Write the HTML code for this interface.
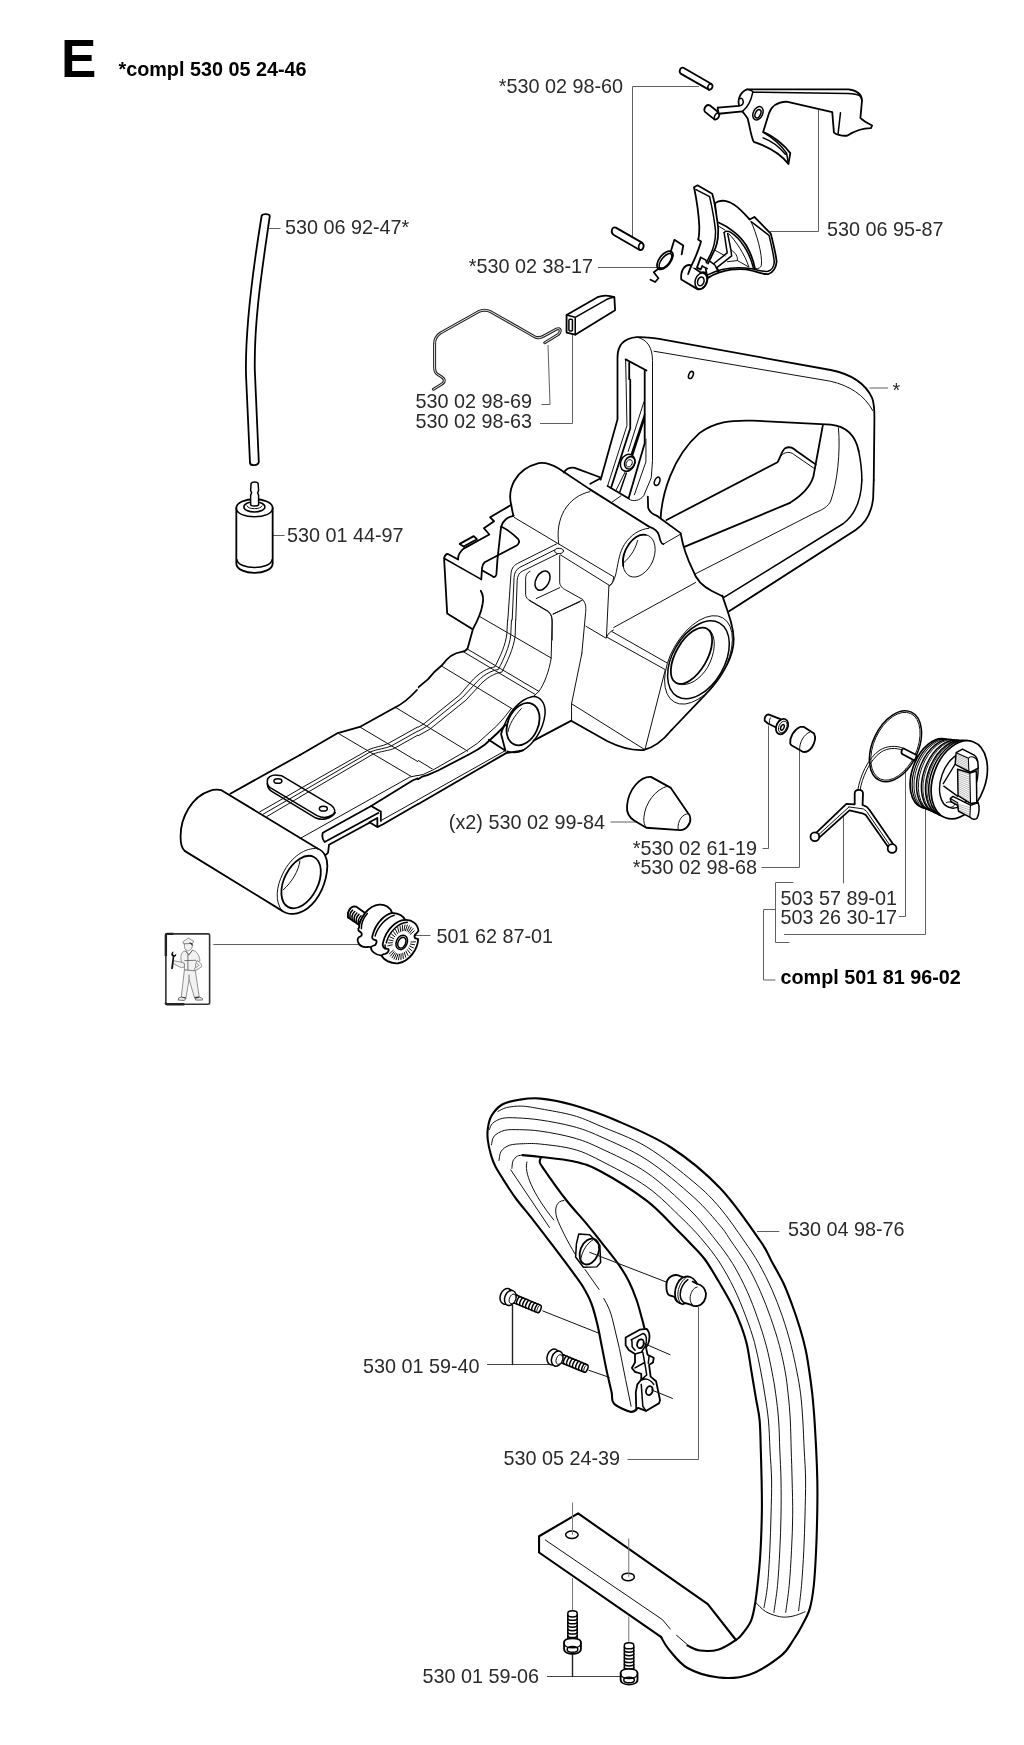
<!DOCTYPE html>
<html><head><meta charset="utf-8"><title>E</title>
<style>
html,body{margin:0;padding:0;background:#fff;}
svg{display:block;filter:grayscale(1)}
text{font-family:"Liberation Sans",sans-serif;font-size:19.8px;fill:#2a2a2a}
.b{font-weight:bold}
.k{fill:none;stroke:#000;stroke-width:1.8;stroke-linejoin:round;stroke-linecap:round}
.m{fill:none;stroke:#000;stroke-width:1.5;stroke-linejoin:round;stroke-linecap:round}
.t{fill:none;stroke:#111;stroke-width:1;stroke-linejoin:round;stroke-linecap:round}
.l{fill:none;stroke:#606060;stroke-width:1}
.k2{fill:none;stroke:#000;stroke-width:2.1;stroke-linejoin:round;stroke-linecap:round}
.w{fill:#fff}
path,ellipse,circle,line,polyline,polygon,rect{vector-effect:non-scaling-stroke}
.b{fill:#000}
</style></head><body>
<svg width="1024" height="1745" viewBox="0 0 1024 1745">
<rect width="1024" height="1745" fill="#fff"/>
<!-- 00_text.svg -->
<g id="labels">
<text class="b" x="61" y="76.5" style="font-size:53px">E</text>
<text class="b" x="118.5" y="75.7" style="font-size:19.8px">*compl 530 05 24-46</text>
<text x="623" y="93" text-anchor="end">*530 02 98-60</text>
<text x="827" y="235.5">530 06 95-87</text>
<text x="593" y="273" text-anchor="end">*530 02 38-17</text>
<text x="285" y="233.500">530 06 92-47*</text>
<text x="532.1" y="408.3" text-anchor="end">530 02 98-69</text>
<text x="532.1" y="428.2" text-anchor="end">530 02 98-63</text>
<text x="892.4" y="397">*</text>
<text x="287" y="542">530 01 44-97</text>
<text x="605" y="828.5" text-anchor="end">(x2) 530 02 99-84</text>
<text x="757" y="854.5" text-anchor="end">*530 02 61-19</text>
<text x="757" y="873.5" text-anchor="end">*530 02 98-68</text>
<text x="780.5" y="904.5">503 57 89-01</text>
<text x="780.5" y="924">503 26 30-17</text>
<text class="b" x="780.5" y="984" style="font-size:19.8px">compl 501 81 96-02</text>
<text x="436.5" y="943">501 62 87-01</text>
<text x="788" y="1236">530 04 98-76</text>
<text x="479.5" y="1373" text-anchor="end">530 01 59-40</text>
<text x="620" y="1464.5" text-anchor="end">530 05 24-39</text>
<text x="539" y="1683" text-anchor="end">530 01 59-06</text>
</g>
<!-- 01_leaders.svg -->
<g id="leaders" class="l">
<path d="M699,86.500 H632.500 V238"/>
<path d="M770,231.500 H818.500 V110"/>
<path d="M598,267.500 H663"/>
<path d="M269,228.500 H280.500"/>
<path d="M541.500,404.500 H550 L548,345"/>
<path d="M540,423.500 H572.500 V334"/>
<path d="M273,535.500 H284.500"/>
<path d="M869.500,388 H888"/>
<path d="M610.500,822 H636"/>
<path d="M768.500,725.500 V848.500 H762.500"/>
<path d="M799.500,751 V867.500 H761.500"/>
<path d="M843.500,815.500 V883.400"/>
<path d="M793.400,882.500 H775.500 V942.500 H789.400"/>
<path d="M775.500,909.500 H763.500 V980 H775.300"/>
<path d="M898.800,916.500 H905.500 V768.500"/>
<path d="M784,934.500 H925.500 V808"/>
<path d="M213.300,944.500 H358.700"/>
<path d="M415.300,935.500 H430.500"/>
<path d="M757,1231.500 H779.300"/>
<path d="M698.500,1307 V1459.500 H627.500"/>
<path d="M547,1676.500 H622" stroke="#444"/>
<path d="M487,1364.500 H549.500" stroke="#444"/>
</g>
<g id="leaders2" class="k" style="stroke-width:1.4;stroke:#222">
<path d="M512.500,1305.500 V1364.500"/>
<path d="M572.500,1653 V1676.500"/>
</g>
<!-- 10_locklever.svg -->
<g id="locklever" transform="translate(660,50) scale(0.234375)">
<!-- pin 1 -->
<path class="k w" d="M100,76 L218,144 C228,150 226,168 210,170 L90,102 C78,94 86,70 100,76 Z"/>
<path class="m" d="M218,144 C206,144 198,160 210,170"/>
<!-- small cylinder -->
<path class="k w" d="M212,236 L252,268 C258,280 246,300 232,296 L192,264 C184,252 196,230 212,236 Z"/>
<path class="m" d="M252,268 C240,264 228,284 232,296"/>
<!-- lever body -->
<path class="k w" d="M372,168 L805,168 C840,172 860,190 862,215 L855,290 C870,305 890,315 905,322 L900,333 C870,333 830,345 800,365 C780,368 750,362 742,352 L735,265 L540,220 C500,222 475,240 465,270 L440,350 C480,365 530,405 556,440 L548,486 C520,450 470,415 400,392 C388,370 382,320 374,292 C366,280 356,268 352,262 L250,272 L246,246 L338,238 C330,215 340,180 372,168 Z"/>
<path class="m" d="M396,180 L800,186 C825,186 845,190 856,198"/>
<path class="m" d="M396,180 C392,200 380,240 352,262"/>
<path class="m" d="M372,168 C385,170 396,176 396,180"/>
<path class="m" d="M338,238 C352,238 360,225 352,210 C350,206 346,205 342,208"/>
<path class="m" d="M770,268 L760,356"/>
<path class="m" d="M442,352 C480,372 520,410 540,440 L548,486"/>
<path class="m" d="M440,375 C480,390 515,420 535,445"/>
<ellipse class="m" cx="418" cy="270" rx="20" ry="30" transform="rotate(25 418 270)"/>
<ellipse class="m" cx="418" cy="272" rx="11" ry="19" transform="rotate(25 418 272)"/>
</g>
<!-- 11_trigger.svg -->
<g id="pin2" transform="translate(560,170) scale(0.234375)">
<path class="k w" d="M238,246 L350,310 C362,318 358,340 342,342 L228,276 C214,266 222,240 238,246 Z"/>
<path class="m" d="M350,310 C336,310 330,332 342,342"/>
<!-- spring -->
<ellipse class="k" cx="448" cy="385" rx="24" ry="46" transform="rotate(38 448 385)"/>
<ellipse class="m" cx="450" cy="388" rx="17" ry="38" transform="rotate(38 450 388)"/>
<path class="k" d="M472,350 L488,298 L526,322 L519,360"/>
<path class="k" d="M424,418 L400,436 L420,462 L406,478 L386,468"/>
</g>
<g id="trigger" transform="translate(670,175) scale(0.1171875)">
<!-- body -->
<path class="k w" d="M385,240 C430,205 500,215 570,270 C620,310 660,360 680,380 L720,358 L860,500 C880,580 905,680 910,740 C905,790 880,830 840,845 C800,852 760,835 700,815 C600,790 450,800 320,880 L300,780 L400,500 Z"/>
<path class="m" d="M322,852 C420,800 560,780 700,800 C760,815 800,828 835,822 C865,812 888,780 890,740"/>
<path class="m" d="M695,400 L845,515 C865,600 885,680 890,740"/>
<path class="t" d="M690,395 C740,500 790,680 780,770 C775,790 760,800 730,800"/>
<path class="k" d="M415,405 C500,440 600,520 650,600 C690,670 715,740 725,800"/>
<path class="m" d="M462,492 C470,478 495,475 515,488 C600,540 680,660 712,795"/>
<path class="m" d="M462,492 L488,665 L375,755"/>
<path class="m" d="M492,500 L520,640 L526,690 L400,790"/>
<path class="t" d="M500,500 C560,560 640,680 672,782"/>
<path class="t" d="M520,640 C560,660 580,700 575,730 L490,740"/>
<path class="t" d="M575,730 L672,785"/>
<path class="t" d="M420,440 L470,470 M380,640 L470,690"/>
<path class="m" d="M345,740 L385,770 L410,825 M400,790 L418,822"/>
<!-- pivot -->
<path class="k w" d="M170,768 C125,765 88,815 96,892 L238,976 C285,980 322,930 320,868 C312,840 290,825 262,832 Z"/>
<ellipse class="m" cx="265" cy="905" rx="50" ry="70" transform="rotate(18 265 905)"/>
<ellipse class="m" cx="263" cy="908" rx="27" ry="38" transform="rotate(18 263 908)"/>
<!-- blade -->
<path d="M205,105 L235,88 L360,160 C375,200 395,330 410,440 C415,520 405,600 370,660 L322,760 L300,800 L175,790 C210,720 250,620 265,568 L240,550 C245,540 250,500 250,440 C245,330 225,200 205,105 Z" fill="#fff"/>
<path class="k" d="M155,845 L175,790 C210,720 250,620 265,568 L240,550 C245,540 250,500 250,440 C245,330 225,200 205,105 L235,88 L360,160 C375,200 395,330 410,440 C415,520 405,600 370,660 L325,755"/>
<path class="k" d="M262,703 L230,790 L262,806 L275,778"/>
<path class="m" d="M222,125 L338,185 C355,260 380,400 388,470 C392,560 375,620 345,680 L310,748"/>
<path class="m" d="M262,703 L305,725 L314,748 M275,778 L318,800"/>
</g>
<!-- 12_wire_block.svg -->
<g id="wire" transform="translate(410,285) scale(0.234375)">
<path d="M100,445 L140,420 C150,410 147,400 137,394 L116,380 C108,374 105,365 105,350 L105,250 C105,230 115,215 130,205 L290,115 C310,105 326,105 346,115 L530,220 C545,228 556,226 570,218 L625,188 C642,181 646,196 634,210 L575,246" fill="none" stroke="#222" stroke-width="3" stroke-linecap="round" stroke-linejoin="round"/>
<path d="M100,445 L140,420 C150,410 147,400 137,394 L116,380 C108,374 105,365 105,350 L105,250 C105,230 115,215 130,205 L290,115 C310,105 326,105 346,115 L530,220 C545,228 556,226 570,218 L625,188 C642,181 646,196 634,210 L575,246" fill="none" stroke="#fff" stroke-width="0.9" stroke-linecap="round" stroke-linejoin="round"/>
<!-- block -->
<path class="k w" d="M668,128 L800,52 C820,44 850,44 872,52 L875,108 L705,212 L668,203 Z"/>
<path class="m" d="M668,128 L705,138 L705,212 M705,138 L838,62 C850,56 862,53 872,52"/>
<rect class="m" x="678" y="146" width="15" height="50" rx="4"/>
</g>
<g id="hose">
<path class="k w" d="M261.6,216 C262,213.500 269.500,213.500 269.800,216 C262,270 254,320 254.800,370 L258.800,462 C258,466 250.500,466 250,463 L246,375 C245,330 252,275 261.600,216 Z"/>
</g>
<g id="filter" transform="translate(200,460) scale(0.234375)">
<path class="k w" d="M155,205 C155,155 310,155 310,205 L310,440 C310,495 155,495 155,440 Z"/>
<path class="m" d="M155,205 C155,255 310,255 310,205"/>
<path class="m" d="M157,425 C165,470 300,470 308,425"/>
<ellipse class="m" cx="232" cy="200" rx="45" ry="22"/>
<path class="m w" d="M216,192 L216,150 L220,140 L216,130 L218,100 C222,92 244,92 248,100 L250,130 L246,140 L250,150 L250,192 C245,198 222,198 216,192 Z"/>
<path class="t" d="M200,196 C205,212 260,212 265,196"/>
</g>
<!-- 20_handle_w1.svg -->
<g id="w1" transform="translate(590,320) scale(0.3125)">
<path class="k" d="M34,511 L88,318 L88,120 C88,80 110,58 150,55 C180,53 205,58 230,62 L770,160 C830,172 880,200 903,250 C912,275 910,300 910,330 L908,512"/>
<path class="t" d="M150,55 C185,62 200,90 200,130 L200,450 L196,505 L172,562 C160,578 140,582 125,574"/>
<path class="t" d="M205,100 L770,196 C830,210 878,240 905,290"/>
<ellipse class="m" cx="323" cy="176" rx="7" ry="12" transform="rotate(22 323 176)"/>
<ellipse class="m" cx="215" cy="516" rx="8" ry="14" transform="rotate(22 215 516)"/>
<path class="k" d="M226,634 C230,560 262,440 350,362 C400,325 450,320 520,322 L770,335 C820,340 850,372 860,420"/>
<path class="m" d="M860,420 C870,470 870,500 870,512"/>
<path class="k" d="M745,337 L715,500 C705,535 680,560 640,585"/>
<path class="t" d="M795,345 C802,420 792,520 770,580 "/>
<path class="k" d="M245,640 L600,455 C610,440 612,420 625,410 C640,403 650,410 662,420 L722,462"/>
<path class="t" d="M612,434 C622,422 640,420 652,430 L716,474"/>
<path class="k" d="M185,565 L186,600 C190,615 200,622 215,627"/>
</g>
<g id="slot" transform="translate(590,340) scale(0.1032)">
<path class="t" d="M345,188 L350,410 L358,830 L170,1415"/>
<path class="k" d="M345,188 L548,295"/>
<path class="k" d="M380,222 L380,380 L390,385 L390,855 L205,1430"/>
<path class="k" d="M530,290 L530,1000 L375,1530"/>
<path class="k" d="M170,1415 L375,1535"/>
<path class="t" d="M522,600 L370,1080"/>
<path class="m" d="M530,720 L400,1110 M525,770 L410,1125"/>
<path class="t" d="M542,960 L542,1180 L430,1500"/>
<path class="t" d="M340,1280 L255,1450"/>
<path class="m" d="M352,1290 L290,1470"/>
<path class="t" d="M215,1570 L300,1510"/>
<ellipse class="m w" cx="365" cy="1190" rx="68" ry="85" transform="rotate(25 365 1190)"/>
<ellipse class="m" cx="385" cy="1190" rx="48" ry="62" transform="rotate(25 385 1190)"/>
<ellipse class="t" cx="380" cy="1195" rx="27" ry="38" transform="rotate(25 380 1195)"/>
</g>
<!-- 21_handle_w2.svg -->
<g id="w2" transform="translate(590,480) scale(0.3125)">
<path class="k" d="M908,0 L906,60 C900,110 880,140 850,160 L445,420"/>
<path class="m" d="M870,0 C868,60 850,110 810,140 L430,375"/>
<path class="k" d="M640,73 L300,215"/>
<path class="t" d="M770,68 C762,85 745,95 720,105 L334,302"/>
<path class="t" d="M338,328 L76,472"/>
<path class="k" d="M215,115 L290,170 C295,200 305,240 330,290 C340,320 360,340 390,355 L424,372"/>
<path class="k" d="M0,30 L190,150 C205,155 215,160 220,175 C225,190 225,205 235,205"/>
<path class="t" d="M235,205 L292,172"/>

<path class="t" d="M70,485 L246,585"/>
</g>
<g id="wr" transform="translate(600,500) scale(0.09766)">
<ellipse class="t" cx="400" cy="572" rx="150" ry="228" transform="rotate(24 400 572)"/>
<path class="k" d="M238,676 A150,228 24 0 1 468,356"/>
<path class="t" d="M385,415 C370,480 320,580 245,640"/>
<path class="t" d="M500,290 C410,295 310,360 250,455 C200,535 190,620 168,730 C155,800 130,860 98,880"/>
</g>
<!-- 22_body_w3.svg -->
<g id="w3" transform="translate(420,450) scale(0.3125)">
<path class="k" d="M299,210 C296,200 294,188 292,176 C280,130 300,62 380,42 C405,38 425,48 445,60 L544,126"/>
<path class="k" d="M460,72 C468,60 480,55 495,57 L578,88"/>
<path class="k" d="M545,108 L575,92"/>
<path class="t" d="M544,133 C470,150 432,220 444,300"/>
<path class="t" d="M302,216 L620,406"/>
<path class="t" d="M604.500,434 L596.500,600"/>
<path class="t" d="M531,564 L595,602"/>
<path class="t" d="M447,338 L447,425 C450,440 460,445 470,450 L520,478 C530,490 532,500 530,520 L518,650"/>
<path class="t" d="M427,525 L520,480"/>
</g>
<g id="w3b" transform="translate(430,490) scale(0.15625)">
<path class="k" d="M270,890 L110,790 L90,435 C95,420 105,408 115,410 L180,445 C178,420 185,400 215,375 L380,285 L345,245 L410,200 L385,175 L520,95"/>
<path class="k" d="M535,165 C500,170 465,195 455,235 L432,440 L425,540 C420,560 405,560 398,550 L335,515"/>
<path class="k" d="M458,235 C490,250 540,290 565,315 C575,330 570,345 555,355 L350,462 C340,470 335,480 333,500 L328,572"/>
<path class="m" d="M95,440 L328,572"/>
<path class="k" d="M190,345 L280,295 L300,315 L215,362 Z"/>
<path class="k" d="M325,645 C340,670 345,700 335,740"/>
<path class="t" d="M810,345 L560,470 C530,485 520,510 518,540 L498,832"/>
<path class="t" d="M815,375 L575,495 C550,510 540,530 538,560 L526,832"/>
<path class="t" d="M825,405 L590,520 C570,530 560,550 558,580 L549,832"/>
<ellipse class="t w" cx="826" cy="390" rx="28" ry="17"/>
<path class="t" d="M640,520 C620,530 612,545 612,570 L612,670 C615,690 625,700 640,710 L750,775 C770,790 780,800 782,830 L782,960"/>
<path class="t" d="M680,695 L830,625"/>
<ellipse class="m" cx="720" cy="580" rx="42" ry="66" transform="rotate(28 720 580)"/>
</g>
<g id="wq" transform="translate(540,530) scale(0.09766)">
<path class="t" d="M755,485 C748,530 738,556 712,568"/>
<path class="t" d="M210,255 L712,568"/>
<path class="t" d="M680,1100 C695,1060 720,1040 752,1024"/>
</g>
<!-- 23_body_w4.svg -->
<clipPath id="c4b"><path d="M418,590 H600 V769 H418 Z"/></clipPath>
<g clip-path="url(#c4b)"><g id="w4b" transform="translate(400,600) scale(0.17578)">
<path class="k" d="M468,32 C462,70 445,110 415,165 L385,275 C375,290 365,295 350,295 C310,300 275,320 240,370 C215,390 190,410 160,450 L0,585"/>
<path class="m" d="M590,720 C620,640 680,565 750,550 C800,545 830,590 825,650 C815,740 760,820 700,855 C670,870 640,870 610,860"/>
<ellipse class="k" cx="700" cy="706" rx="86" ry="126" transform="rotate(24 700 706)"/>
<path class="t" d="M690,618 C650,660 620,710 615,748"/>
<path class="k" d="M505,795 L600,858 L575,762 C580,742 585,730 590,720"/>
<path class="k" d="M610,870 L700,856 M760,800 L975,686"/>
<path class="t" d="M455,95 L860,330"/>
<path class="t" d="M385,280 L790,520 M365,297 L770,538"/>
<path class="t" d="M235,375 L640,620"/>
<path class="t" d="M0,625 L385,860"/>
<path class="t" d="M0,850 L185,962"/>
<path class="t" d="M735,0 L845,65 C860,80 865,100 865,130 L860,330 C850,400 820,480 790,520 L760,548"/>
<path class="t" d="M870,80 L1024,10"/>
<path class="t" d="M612,114 L608,190 C600,260 570,320 540,380 C500,388 450,410 400,470 L340,540 L135,705 L0,785"/>
<path class="t" d="M634,114 L630,200 C622,270 590,335 560,395 C520,402 470,425 420,485 L355,555 L150,720 L0,805"/>
<path class="t" d="M658,114 L655,205 C645,280 610,350 580,410 C540,416 490,440 440,500 L375,570 L170,735 L0,830"/>
<path class="t" d="M1035,302 L976,590 L976,686"/>
</g></g>
<g id="w4" transform="translate(420,610) scale(0.3125)">
<path class="k" d="M485,355 L600,420 C640,440 680,450 715,448 C750,440 780,415 805,384"/>
<path class="t" d="M600,88 L785,191 L720,446"/>
<path class="t" d="M485,300 L718,446"/>
</g>

<g id="w4c" transform="translate(620,580) scale(0.15625)">
<path class="k" d="M655,100 L692,210 C720,290 735,350 725,420 C710,520 640,640 540,740 L330,960"/>
<ellipse class="t" cx="502.500" cy="511.500" rx="175" ry="311" transform="rotate(30 502.500 511.500)"/>
<ellipse class="m" cx="502" cy="511" rx="166" ry="271" transform="rotate(30 502 511)"/>
<ellipse class="k" cx="457.500" cy="485" rx="100" ry="200" transform="rotate(30 457.500 485)"/>
<path class="t" d="M575,320 C620,370 610,470 560,560 C510,640 440,680 380,668"/>
</g>

<g id="w7" transform="translate(360,640) scale(0.1953)">
<path class="k" d="M745,435 L700,480 L640,535 C610,558 585,572 560,585 L400,668 L345,692 L318,700 L297,713"/>
<path class="t" d="M775,350 L740,395 L700,440 L600,530 L540,570 L380,662 L325,688 L297,694"/>
<path class="k" d="M750,578 L297,841"/>
<path class="t" d="M745,566 L297,818"/>
</g>
<!-- 24_arm.svg -->
<clipPath id="c5b"><path d="M290,680 H418 V870 H290 Z"/></clipPath>
<g clip-path="url(#c5b)"><g id="w5b" transform="translate(300,690) scale(0.17578)">
<path class="k" d="M665,0 C620,50 580,80 540,100 L340,210 L215,245 L0,370"/>
<path class="k" d="M1024,300 C990,340 950,380 900,410 L780,470 L700,490 L640,515 L405,660 L130,812 C124,830 128,850 140,865 L445,700"/>
<path class="k" d="M405,660 L460,692 L460,745"/>
<path class="k" d="M1024,445 L470,765 L440,780 L395,752 L440,728 L440,778"/>
<path class="t" d="M1024,428 L462,742"/>
<path class="k" d="M395,755 L165,880 L160,925 L145,940"/>
<path class="t" d="M0,845 L625,495 L700,480 L755,455 L950,345 L1024,290"/>
<path class="t" d="M215,245 L630,490 M340,210 L750,455 M545,100 L950,345"/>
<path class="t" d="M0,562 L390,340 C430,322 470,320 500,305 L715,185 C800,130 880,60 920,0"/>
<path class="t" d="M0,585 L400,352 C440,335 490,333 520,318 L730,200 C815,145 900,70 945,0"/>
<path class="t" d="M0,608 L415,365 C455,348 510,346 540,330 L745,215 C830,160 920,80 970,0"/>
</g></g>
<g id="w6" transform="translate(160,770) scale(0.234375)">
<path class="k" d="M672,335 L262,86 C240,82 225,84 210,90 C140,112 85,200 88,290 C88,320 95,335 105,345 L520,600"/>
<path class="k" d="M672,335 C700,345 715,375 714,410 C712,480 680,550 630,590 C590,620 545,620 520,600"/>
<path class="t" d="M672,335 C620,330 560,370 525,440 C495,500 490,560 520,600"/>
<ellipse class="k" cx="602" cy="478" rx="72" ry="120" transform="rotate(27 602 478)"/>
<path class="t" d="M597,388 C592,430 562,480 525,512"/>
<path class="k" d="M300,101 L597,-64"/>
<path class="m" d="M458,50 C455,32 475,20 500,22 L520,25 L730,150 C750,165 750,180 735,192 C715,205 690,205 670,195 L470,75 C460,68 457,60 458,50 Z"/>
<path class="m" d="M458,58 C458,75 462,82 475,90 L665,205 C690,215 730,210 748,182"/>
<ellipse class="m" cx="503" cy="47" rx="17" ry="10"/>
<ellipse class="m" cx="697" cy="165" rx="17" ry="10"/>
<path class="t" d="M425,179 L598,80 M440,188.500 L598,97.400 M456,198.600 L598,114.800"/>
</g>
<!-- 30_smallparts.svg -->
<g id="w8" transform="translate(590,700) scale(0.234375)">
<path class="k w" d="M260,328 C215,325 165,380 158,450 C155,480 165,500 190,515 L240,545 L385,555 C410,555 430,530 428,505 C428,495 425,490 420,485 L345,375 Z"/>
<path class="t" d="M330,368 C280,380 235,440 230,500 C228,520 232,535 240,545"/>
<path class="t" d="M420,485 C395,485 372,515 376,552"/>
</g>
<g id="w15" transform="translate(750,700) scale(0.078125)">
<path class="k w" d="M390,245 L235,185 C205,190 180,225 188,265 L230,300 L335,352 Z"/>
<path class="t" d="M262,228 C248,250 244,275 250,300"/>
<ellipse class="k w" cx="410" cy="340" rx="72" ry="104" transform="rotate(25 410 340)"/>
<ellipse class="t" cx="420" cy="345" rx="50" ry="78" transform="rotate(25 420 345)"/>
<ellipse class="m" cx="415" cy="350" rx="20" ry="38" transform="rotate(25 415 350)"/>
<path class="k w" d="M515,560 C505,480 560,380 640,345 L690,345 L820,430 C840,470 835,540 790,610 C760,650 720,670 680,665 L530,580 Z"/>
<path class="t" d="M765,410 C690,440 630,540 635,640"/>
</g>
<!-- 31_tankcap.svg -->
<g id="w10" transform="translate(840,690) scale(0.15625)">
<ellipse class="m" cx="355" cy="360" rx="146" ry="241" transform="rotate(25 355 360)"/>
<ellipse class="t" cx="355" cy="360" rx="137" ry="231" transform="rotate(25 355 360)"/>
<path class="t" d="M114,640 C126,560 176,436 256,384 C298,358 360,352 408,374"/>
<path class="t" d="M128,642 C140,566 188,448 264,396 C304,372 358,366 402,386"/>
<path class="k w" d="M408,374 L492,418 L478,452 L398,410 C388,398 394,378 408,374 Z"/>
</g>
<g id="w14" transform="translate(900,730) scale(0.09766)" style="stroke-linejoin:round">
<ellipse cx="350" cy="445" rx="225" ry="370" transform="rotate(20 350 445)" fill="#fff" stroke="#000" stroke-width="1.7"/>
<ellipse cx="372" cy="450" rx="226" ry="372" transform="rotate(20 372 450)" fill="none" stroke="#000" stroke-width="1.2"/>
<ellipse cx="392" cy="454" rx="228" ry="374" transform="rotate(20 392 454)" fill="none" stroke="#000" stroke-width="0.9"/>
<ellipse cx="425" cy="462" rx="234" ry="380" transform="rotate(20 425 462)" fill="#fff" stroke="#000" stroke-width="1.5"/>
<ellipse cx="445" cy="467" rx="236" ry="383" transform="rotate(20 445 467)" fill="none" stroke="#000" stroke-width="0.9"/>
<ellipse cx="485" cy="478" rx="244" ry="390" transform="rotate(20 485 478)" fill="#fff" stroke="#000" stroke-width="1.5"/>
<ellipse cx="502" cy="483" rx="246" ry="394" transform="rotate(20 502 483)" fill="none" stroke="#000" stroke-width="0.8"/>
<ellipse cx="535" cy="492" rx="252" ry="400" transform="rotate(20 535 492)" fill="#fff" stroke="#000" stroke-width="1.5"/>
<ellipse cx="552" cy="497" rx="256" ry="404" transform="rotate(20 552 497)" fill="none" stroke="#000" stroke-width="0.8"/>
<ellipse cx="578" cy="502" rx="262" ry="410" transform="rotate(20 578 502)" fill="#fff" stroke="#000" stroke-width="1.5"/>
<ellipse cx="607" cy="510" rx="267" ry="414" transform="rotate(20 607 510)" fill="#fff" stroke="#000" stroke-width="1.7"/>
<ellipse cx="602" cy="515" rx="180" ry="296" transform="rotate(20 602 515)" fill="none" stroke="#000" stroke-width="1.4"/>
<path d="M565,350 L440,555 M445,572 L595,682" fill="none" stroke="#000" stroke-width="1.3"/>
<path d="M470,745 C490,730 540,735 560,760 C550,800 490,800 470,770" fill="none" stroke="#000" stroke-width="0.9"/>
<path d="M575,232 L640,195 L760,258 C792,278 802,310 800,392 L722,432 L705,425 L565,352 Z" fill="#fff" stroke="#000" stroke-width="1.5"/>
<path d="M575,232 L700,290 L705,425 M700,290 C720,262 775,268 796,325" fill="none" stroke="#000" stroke-width="1.1"/>
<path d="M590,402 L715,440 L782,420 L786,742 L722,752 L595,672 Z" fill="#fff" stroke="#000" stroke-width="1.5"/>
<path d="M715,440 L722,752" fill="none" stroke="#000" stroke-width="1.1"/>
<path d="M515,702 L542,680 L722,770 L800,742 C816,780 812,860 790,900 C770,922 740,920 715,892 L600,832 L590,772 L520,732 Z" fill="#fff" stroke="#000" stroke-width="1.5"/>
<path d="M722,770 L715,892 M515,702 L590,745 L600,832" fill="none" stroke="#000" stroke-width="1.1"/>
<path d="M574,249 L702,309" fill="none" stroke="#666" stroke-width="0.45"/>
<path d="M574,266 L702,329" fill="none" stroke="#666" stroke-width="0.45"/>
<path d="M574,283 L702,348" fill="none" stroke="#666" stroke-width="0.45"/>
<path d="M574,301 L702,367" fill="none" stroke="#666" stroke-width="0.45"/>
<path d="M574,318 L702,386" fill="none" stroke="#666" stroke-width="0.45"/>
<path d="M574,335 L702,406" fill="none" stroke="#666" stroke-width="0.45"/>
<path d="M592,421 L717,462" fill="none" stroke="#666" stroke-width="0.45"/>
<path d="M592,441 L717,485" fill="none" stroke="#666" stroke-width="0.45"/>
<path d="M592,460 L717,507" fill="none" stroke="#666" stroke-width="0.45"/>
<path d="M592,479 L717,529" fill="none" stroke="#666" stroke-width="0.45"/>
<path d="M592,498 L717,551" fill="none" stroke="#666" stroke-width="0.45"/>
<path d="M592,518 L717,574" fill="none" stroke="#666" stroke-width="0.45"/>
<path d="M592,537 L717,596" fill="none" stroke="#666" stroke-width="0.45"/>
<path d="M592,556 L717,618" fill="none" stroke="#666" stroke-width="0.45"/>
<path d="M592,576 L717,641" fill="none" stroke="#666" stroke-width="0.45"/>
<path d="M592,595 L717,663" fill="none" stroke="#666" stroke-width="0.45"/>
<path d="M592,614 L717,685" fill="none" stroke="#666" stroke-width="0.45"/>
<path d="M592,633 L717,707" fill="none" stroke="#666" stroke-width="0.45"/>
<path d="M592,653 L717,730" fill="none" stroke="#666" stroke-width="0.45"/>
<path d="M598,762 L718,794" fill="none" stroke="#666" stroke-width="0.45"/>
<path d="M598,780 L718,819" fill="none" stroke="#666" stroke-width="0.45"/>
<path d="M598,797 L718,843" fill="none" stroke="#666" stroke-width="0.45"/>
<path d="M598,815 L718,868" fill="none" stroke="#666" stroke-width="0.45"/>
<path d="M520,718 L590,758" fill="none" stroke="#666" stroke-width="0.45"/>
</g>
<g id="w11" transform="translate(800,740) scale(0.21875)">
<path class="k w" d="M212,292 L250,294 L250,245 C250,222 288,222 288,245 L286,297 L305,305 L318,320 L430,482 L408,496 L300,342 L285,335 L226,322 L88,446 L70,428 Z"/>
<path class="t" d="M224,306 L290,315 L304,326 L414,486 M224,306 L82,436"/>
<circle class="k w" cx="68" cy="442" r="20"/>
<circle class="k w" cx="421" cy="496" r="20"/>
</g>
<!-- 32_avmount_icon.svg -->
<g id="w12" transform="translate(330,890) scale(0.1171875)">
<path class="k w" d="M205,140 C170,145 145,190 152,232 L240,292 L305,200 L225,143 Z"/>
<path class="m" d="M175,160 C153,180 147,210 157,238"/>
<path class="m" d="M193,172 C171,192 165,222 175,250"/>
<path class="m" d="M211,184 C189,204 183,234 193,262"/>
<path class="m" d="M229,196 C207,216 201,246 211,274"/>
<path class="m" d="M247,208 C225,228 219,258 229,286"/>
<path class="m" d="M265,220 C243,240 237,270 247,298"/>
<path class="m" d="M283,232 C261,252 255,282 265,310"/>
<path class="k w" d="M300,195 C330,160 370,130 420,125 C470,120 515,150 530,195 C600,200 630,230 640,255 C700,250 750,290 755,350 L730,378 C722,385 720,400 725,410 L752,420 C750,500 680,610 580,625 C520,630 460,600 440,560 C390,555 345,520 350,490 C335,480 320,488 300,488 C270,485 248,470 240,445 C228,420 240,400 262,395 C275,385 275,370 262,360 C240,350 235,335 248,322 C245,300 262,245 300,195 Z"/>
<path class="m" d="M318,200 C285,240 265,290 268,330"/>
<path class="k" d="M530,195 C460,210 390,290 365,380 C355,410 360,420 380,425 L395,430 C400,445 395,460 385,470 C365,475 350,480 350,490"/>
<path class="m" d="M548,215 C480,235 410,310 385,392"/>
<path class="k" d="M640,255 C560,260 480,340 455,440 C445,470 450,490 470,500 L500,505 C505,520 490,540 470,545 C450,545 445,555 440,560"/>
<path class="m" d="M660,275 C585,280 505,355 480,450 M470,470 C468,480 470,490 478,497"/>
<ellipse class="m" cx="612" cy="447" rx="46" ry="64" transform="rotate(25 612 447)"/>
<ellipse class="m" cx="614" cy="449" rx="32" ry="48" transform="rotate(25 612 447)"/>
<path class="t" d="M679,478 L712,494"/>
<path class="t" d="M671,495 L699,518"/>
<path class="t" d="M660,509 L683,539"/>
<path class="t" d="M648,522 L666,558"/>
<path class="t" d="M635,532 L646,574"/>
<path class="t" d="M621,540 L626,586"/>
<path class="t" d="M607,545 L605,593"/>
<path class="t" d="M593,548 L584,596"/>
<path class="t" d="M580,547 L564,595"/>
<path class="t" d="M567,543 L546,589"/>
<path class="t" d="M556,536 L530,578"/>
<path class="t" d="M547,526 L516,564"/>
<path class="t" d="M540,514 L505,546"/>
<path class="t" d="M531,468 L492,477"/>
<path class="t" d="M533,450 L495,452"/>
<path class="t" d="M538,433 L502,426"/>
<path class="t" d="M545,416 L512,400"/>
<path class="t" d="M553,399 L525,376"/>
<path class="t" d="M564,385 L541,355"/>
<path class="t" d="M576,372 L558,336"/>
<path class="t" d="M589,362 L578,320"/>
<path class="t" d="M603,354 L598,308"/>
<path class="t" d="M617,349 L619,301"/>
<path class="t" d="M631,346 L640,298"/>
<path class="t" d="M644,347 L660,299"/>
<path class="t" d="M657,351 L678,305"/>
<path class="t" d="M668,358 L694,316"/>
<path class="t" d="M677,368 L708,330"/>
<path class="t" d="M684,380 L719,348"/>
<path class="t" d="M691,444 L729,442"/>
<path class="t" d="M686,461 L722,468"/>
</g>
<g id="w13" transform="translate(150,920) scale(0.078125)">
<rect x="203" y="178" width="560" height="900" rx="18" fill="#fff" stroke="#333" stroke-width="1.6"/>
<path d="M203,460 V195 Q203,178 222,178 H300" fill="none" stroke="#222" stroke-width="2.4"/>
<path d="M203,1060 Q203,1078 222,1078 H440" fill="none" stroke="#222" stroke-width="2.4"/>
<path fill="#f2f2f2" stroke="#777" stroke-width="0.8" stroke-linejoin="round" d="M420,280 L490,232 L560,270 L545,300 L430,305 Z"/>
<path fill="#f2f2f2" stroke="#777" stroke-width="0.8" stroke-linejoin="round" d="M440,305 C435,350 450,385 480,395 C520,395 545,360 545,300 Z"/>
<path d="M500,290 C530,285 548,300 545,340 C535,320 520,305 500,290 Z" fill="#333"/>
<path fill="#f2f2f2" stroke="#777" stroke-width="0.8" stroke-linejoin="round" d="M455,395 C420,400 400,420 395,470 L400,540 L440,560 L440,640 L580,650 L585,560 L640,520 C630,450 600,400 545,385 L500,440 Z"/>
<path d="M455,395 L495,450 L545,385 M485,440 L485,640 M440,520 L590,515" fill="none" stroke="#555" stroke-width="0.8"/>
<path fill="#f2f2f2" stroke="#777" stroke-width="0.8" stroke-linejoin="round" d="M400,540 L300,520 L290,555 L400,610 L440,600 L440,555 Z"/>
<path fill="#f2f2f2" stroke="#777" stroke-width="0.8" stroke-linejoin="round" d="M600,520 C650,540 670,580 660,600 L580,650 L570,620 L625,580 L590,545 Z"/>
<path d="M300,400 C280,410 265,430 275,455 L290,470 L270,620 C275,635 295,630 295,615 L310,475 C330,470 340,450 335,432 L312,450 L295,440 Z" fill="#111"/>
<path fill="#f2f2f2" stroke="#777" stroke-width="0.8" stroke-linejoin="round" d="M440,640 L400,990 L460,1000 L500,760 L570,995 L630,985 L580,650 Z"/>
<path d="M500,700 L500,760" fill="none" stroke="#555" stroke-width="0.8"/>
<path d="M400,985 L365,1000 L362,1025 L440,1030 L462,1000 Z" fill="#e8e8e8" stroke="#555" stroke-width="0.8"/>
<path d="M572,990 L585,1025 L670,1025 L672,1005 L630,985 Z" fill="#e8e8e8" stroke="#555" stroke-width="0.8"/>
<path d="M400,985 L450,1005 L462,1000 L440,988 Z M572,990 L630,985 L625,998 L580,1005 Z" fill="#333"/>
</g>
<!-- 40_fronthandle.svg -->
<g id="fronthandle">
<path class="k2" d="M636.6,1409.4 C635.5,1409.8 634.1,1412.7 630.3,1411.7 C626.5,1410.7 617.0,1406.8 613.9,1403.5 C610.8,1400.2 612.8,1397.5 611.6,1392.2 C610.4,1386.9 608.5,1379.2 606.9,1371.9 C605.3,1364.6 603.8,1356.2 602.2,1348.4 C600.6,1340.6 599.3,1332.6 597.5,1325.0 C595.7,1317.4 593.6,1309.2 591.2,1303.0 C588.9,1296.8 586.5,1292.7 583.4,1287.5 C580.3,1282.3 577.4,1278.7 572.5,1271.9 C567.6,1265.1 560.3,1255.5 553.8,1246.9 C547.3,1238.3 539.5,1228.1 533.4,1220.3 C527.3,1212.5 521.1,1205.4 517.0,1200.0 C512.9,1194.6 512.2,1193.5 508.7,1188.0 C505.2,1182.5 498.8,1172.8 495.8,1167.3 C492.9,1161.8 492.3,1159.5 491.0,1155.0 C489.7,1150.5 488.3,1144.4 487.8,1140.0 C487.3,1135.6 487.2,1132.7 487.8,1128.7 C488.4,1124.7 489.1,1119.8 491.5,1115.8 C493.9,1111.8 497.6,1107.2 502.2,1104.5 C506.8,1101.8 512.9,1100.7 519.4,1099.7 C525.9,1098.7 531.9,1097.7 540.9,1098.6 C549.9,1099.5 560.7,1101.4 573.1,1105.0 C585.5,1108.6 599.0,1113.0 615.2,1120.0 C631.4,1127.0 652.8,1135.7 670.3,1147.0 C687.8,1158.3 705.1,1172.5 720.0,1188.0 C734.9,1203.5 750.9,1227.7 759.6,1240.0 C768.3,1252.3 768.0,1254.7 772.0,1262.0 C776.0,1269.3 780.4,1276.7 783.8,1284.0 C787.2,1291.3 789.8,1298.7 792.5,1306.0 C795.2,1313.3 797.7,1320.7 799.9,1328.0 C802.1,1335.3 804.1,1342.7 805.7,1350.0 C807.3,1357.3 808.3,1364.7 809.4,1372.0 C810.5,1379.3 811.4,1386.0 812.3,1394.0 C813.1,1402.0 813.9,1410.7 814.5,1420.0 C815.1,1429.3 815.7,1440.0 816.2,1450.0 C816.7,1460.0 817.1,1470.1 817.3,1480.0 C817.5,1489.9 817.5,1497.6 817.3,1509.3 C817.1,1521.0 816.7,1537.6 816.1,1550.3 C815.5,1563.0 814.9,1575.7 813.8,1585.5 C812.7,1595.3 811.8,1602.1 809.7,1608.9 C807.7,1615.7 804.2,1621.3 801.5,1626.5 C798.8,1631.7 796.7,1635.2 793.3,1640.0 C789.9,1644.8 788.4,1649.9 781.2,1655.6 C774.0,1661.3 760.4,1670.8 750.0,1674.4 C739.6,1678.1 729.2,1678.6 718.8,1677.5 C708.4,1676.4 695.8,1672.7 687.5,1668.0 C679.2,1663.3 673.2,1654.6 668.8,1649.4 C664.4,1644.2 662.3,1639.0 661.0,1636.9"/>
<path class="k2" d="M522.6,1155.1 C525.6,1155.4 532.5,1156.0 540.9,1157.0 C549.3,1158.0 563.2,1159.0 573.1,1161.3 C583.0,1163.6 587.7,1164.4 600.0,1171.0 C612.3,1177.6 634.2,1191.2 646.9,1200.9 C659.6,1210.6 669.0,1222.0 676.2,1229.0 C683.4,1236.0 685.3,1238.0 690.0,1243.0 C694.7,1248.0 699.7,1252.4 704.6,1259.0 C709.5,1265.6 714.6,1274.7 719.3,1282.5 C723.9,1290.3 728.8,1298.7 732.5,1306.0 C736.2,1313.3 738.9,1319.8 741.3,1326.4 C743.7,1333.0 745.4,1337.9 747.1,1345.5 C748.8,1353.1 750.0,1363.0 751.5,1371.8 C753.0,1380.6 754.5,1390.2 755.9,1398.2 C757.2,1406.2 758.8,1411.4 759.6,1420.0 C760.4,1428.6 760.5,1440.0 760.8,1450.0 C761.1,1460.0 761.4,1470.1 761.6,1480.0 C761.8,1489.9 762.0,1499.5 761.9,1509.3 C761.8,1519.1 761.5,1528.8 761.1,1538.6 C760.7,1548.4 760.3,1557.2 759.3,1567.9 C758.3,1578.6 756.6,1594.2 755.2,1603.0 C753.8,1611.8 753.1,1615.6 751.1,1620.6 C749.1,1625.6 745.5,1629.8 743.0,1633.0 C740.5,1636.2 740.0,1637.3 736.0,1640.0 C732.0,1642.7 724.8,1647.7 718.8,1649.4 C712.8,1651.2 705.2,1651.1 700.0,1650.5 C694.8,1649.9 689.6,1646.4 687.5,1645.6"/>
<path class="t" d="M497.9,1111.5 C499.3,1110.8 502.6,1108.5 506.5,1107.6 C510.4,1106.7 515.9,1105.9 521.6,1106.1 C527.3,1106.3 532.3,1107.4 540.9,1108.9 C549.5,1110.5 563.2,1112.6 573.1,1115.4 C583.0,1118.2 587.7,1120.6 600.0,1125.9 C612.3,1131.2 631.3,1137.6 646.9,1147.0 C662.5,1156.4 681.6,1171.9 693.8,1182.1 C705.9,1192.2 711.7,1198.2 720.0,1207.9 C728.3,1217.6 737.0,1230.8 743.5,1240.0 C750.0,1249.2 754.0,1255.1 758.8,1263.4 C763.5,1271.7 768.1,1281.0 772.0,1289.8 C775.9,1298.6 779.1,1306.9 782.3,1316.2 C785.5,1325.5 788.7,1336.2 791.1,1345.5 C793.5,1354.8 795.3,1363.8 796.9,1371.8 C798.5,1379.8 799.6,1385.8 800.6,1393.8 C801.6,1401.8 802.2,1410.6 802.8,1420.0 C803.4,1429.4 803.7,1440.0 804.2,1450.0 C804.7,1460.0 805.5,1469.1 805.6,1480.0 C805.7,1490.9 805.3,1503.5 805.0,1515.2 C804.7,1526.9 804.4,1538.6 803.8,1550.3 C803.2,1562.0 802.4,1575.4 801.5,1585.5 C800.6,1595.6 799.1,1606.5 798.6,1610.7"/>
<path class="t" d="M489.3,1129.7 C489.9,1128.6 490.5,1125.2 492.6,1123.3 C494.8,1121.4 498.1,1119.3 502.2,1118.4 C506.3,1117.5 510.8,1117.6 517.3,1117.9 C523.8,1118.2 531.6,1118.7 540.9,1120.1 C550.2,1121.5 563.2,1123.8 573.1,1126.5 C583.0,1129.2 587.7,1130.9 600.0,1136.4 C612.3,1142.0 631.3,1149.7 646.9,1159.8 C662.5,1169.9 681.6,1186.3 693.8,1197.3 C705.9,1208.2 713.9,1218.4 720.0,1225.5 C726.1,1232.6 725.8,1233.4 730.3,1240.0 C734.8,1246.6 742.1,1256.4 747.1,1264.9 C752.1,1273.5 756.4,1282.5 760.3,1291.3 C764.2,1300.1 767.4,1308.6 770.6,1317.6 C773.8,1326.6 777.0,1336.5 779.4,1345.5 C781.8,1354.5 783.8,1363.8 785.2,1371.8 C786.7,1379.8 787.2,1385.8 788.1,1393.8 C789.0,1401.8 789.8,1410.6 790.3,1420.0 C790.8,1429.4 790.9,1440.0 791.2,1450.0 C791.5,1460.0 791.9,1469.1 792.1,1480.0 C792.4,1490.9 792.8,1503.5 792.7,1515.2 C792.6,1526.9 792.1,1538.6 791.5,1550.3 C790.9,1562.0 790.2,1575.2 789.2,1585.5 C788.2,1595.8 786.3,1607.9 785.7,1612.4"/>
<path class="t" d="M491.5,1144.8 C491.9,1143.4 492.0,1138.6 494.1,1136.2 C496.2,1133.8 500.2,1131.5 504.4,1130.4 C508.6,1129.3 513.3,1129.6 519.4,1129.7 C525.5,1129.8 531.9,1129.9 540.9,1131.2 C549.9,1132.5 563.2,1134.9 573.1,1137.7 C583.0,1140.5 587.7,1142.3 600.0,1148.1 C612.3,1153.9 632.1,1162.5 646.9,1172.7 C661.7,1182.9 677.5,1197.8 689.0,1209.0 C700.5,1220.2 708.4,1230.9 715.6,1240.0 C722.9,1249.1 727.2,1254.9 732.5,1263.4 C737.8,1272.0 743.0,1282.3 747.1,1291.3 C751.2,1300.3 754.2,1308.6 757.4,1317.6 C760.6,1326.6 763.8,1336.5 766.2,1345.5 C768.6,1354.5 770.4,1363.8 772.0,1371.8 C773.6,1379.8 774.6,1385.8 775.7,1393.8 C776.8,1401.8 777.9,1410.6 778.6,1420.0 C779.3,1429.4 779.4,1440.0 779.8,1450.0 C780.2,1460.0 780.8,1469.1 781.0,1480.0 C781.2,1490.9 781.2,1503.5 781.0,1515.2 C780.8,1526.9 780.4,1538.6 779.8,1550.3 C779.2,1562.0 778.5,1575.2 777.5,1585.5 C776.5,1595.8 774.5,1607.9 773.9,1612.4"/>
<path class="t" d="M499.0,1160.5 C499.4,1159.0 499.4,1153.8 501.2,1151.2 C503.0,1148.7 505.9,1146.5 509.7,1145.2 C513.5,1144.0 518.5,1143.9 523.7,1143.7 C528.9,1143.5 532.7,1143.2 540.9,1144.1 C549.1,1145.0 563.2,1146.4 573.1,1149.1 C583.0,1151.8 587.7,1154.1 600.0,1160.4 C612.3,1166.7 633.2,1177.1 646.9,1186.8 C660.6,1196.5 672.7,1209.5 682.0,1218.4 C691.3,1227.3 696.3,1232.7 702.5,1240.0 C708.7,1247.3 714.0,1254.0 719.3,1262.0 C724.5,1270.0 729.6,1279.3 734.0,1288.3 C738.4,1297.3 742.3,1307.2 745.7,1316.2 C749.1,1325.2 752.1,1333.7 754.5,1342.5 C756.9,1351.3 758.6,1360.4 760.3,1368.9 C762.0,1377.5 763.4,1385.3 764.7,1393.8 C766.1,1402.3 767.5,1410.6 768.4,1420.0 C769.3,1429.4 769.5,1440.0 770.0,1450.0 C770.5,1460.0 771.4,1469.1 771.6,1480.0 C771.8,1490.9 771.3,1503.5 771.0,1515.2 C770.7,1526.9 770.4,1538.6 769.8,1550.3 C769.2,1562.0 768.5,1575.9 767.5,1585.5 C766.5,1595.1 764.6,1604.0 764.0,1607.7"/>
<path class="t" d="M511.9,1168.4 C512.1,1167.2 512.1,1162.9 513.0,1160.9 C513.9,1158.9 515.7,1157.2 517.3,1156.2 C518.9,1155.2 521.7,1155.3 522.6,1155.1"/>
<path class="t" d="M755.8,1602.5 C757.4,1604.0 761.7,1609.0 765.2,1611.3 C768.7,1613.5 773.4,1615.0 776.9,1616.0 C780.4,1617.0 783.2,1617.2 786.3,1617.1 C789.4,1617.0 792.5,1616.3 795.6,1615.4 C798.7,1614.5 803.4,1612.4 805.0,1611.8"/>
<path class="k2" d="M540.9,1157.7 C540.7,1158.3 539.5,1159.9 539.8,1161.5 C540.1,1163.1 538.2,1160.9 542.6,1167.3 C547.0,1173.7 559.1,1190.9 566.2,1200.0 C573.3,1209.1 578.7,1214.4 585.0,1221.9 C591.3,1229.5 598.1,1238.0 603.8,1245.3 C609.5,1252.6 615.2,1259.6 619.4,1265.6 C623.6,1271.6 625.9,1275.5 628.8,1281.2 C631.7,1286.9 634.4,1293.7 636.6,1300.0 C638.8,1306.3 640.7,1314.1 642.0,1318.8 C643.3,1323.5 644.0,1326.5 644.4,1328.0"/>
<g id="hb" transform="translate(510,1200) scale(0.15625)">
<path class="t" d="M345,3 C300,5 280,50 300,115 C320,170 370,270 418,348"/>
<path class="m" d="M440,218 L510,222 L575,290 L580,400 L555,428 L470,430 L420,365 L425,280 Z"/>
<ellipse class="k" cx="508" cy="330" rx="58" ry="86" transform="rotate(22 508 330)"/>
<path class="t" d="M536,252 C492,275 458,330 452,388"/>
<path class="t" d="M510,335 L1000,525"/>
<path class="t" d="M480,445 L570,572 M600,630 C630,680 645,720 655,760 L700,950 L740,1150 L775,1320"/>
<path class="k w" d="M740,880 L830,830 L875,825 C900,850 896,900 880,930 L870,942 L880,990 L920,1010 L915,1040 L890,1055 L900,1130 L935,1160 L960,1280 L955,1300 L870,1350 L820,1330 L808,1338 L805,1230 L815,1180 L840,1150 L840,1112 L800,1100 L780,1075 L800,1040 L800,985 L760,960 L740,930 Z"/>
<path class="m" d="M775,895 L850,855 C875,860 880,900 865,935 L840,975 L800,985 M780,900 L782,940 L800,962 M850,975 L862,1040 L800,1075 M862,1040 L875,1120 L840,1150 M845,1150 C870,1140 900,1150 920,1180 M840,1180 L850,1320 L870,1350 M890,1000 L885,1045"/>
<ellipse class="k" cx="835" cy="920" rx="21" ry="29" transform="rotate(15 835 920)"/>
<ellipse class="k" cx="892" cy="1220" rx="21" ry="29" transform="rotate(15 892 1220)"/>
<path class="t" d="M850,915 L1024,990 M905,1215 L1040,1270"/>
<path class="m w" d="M20,656 L175,721 C190,727 210,679 195,673 L40,608 Z"/>
<path class="t" d="M175,721 C162,716 182,668 195,673"/>
<path class="m" d="M26,658 C15,654 35,606 46,610"/>
<path class="m" d="M45,667 C34,662 54,614 65,619"/>
<path class="m" d="M65,675 C53,670 74,622 85,627"/>
<path class="m" d="M84,683 C73,678 93,630 104,635"/>
<path class="m" d="M103,691 C92,686 112,638 123,643"/>
<path class="m" d="M123,699 C112,694 132,646 143,651"/>
<path class="m" d="M142,707 C131,703 151,655 162,659"/>
<path class="m" d="M161,715 C150,711 170,663 181,667"/>
<ellipse class="m w" cx="-24" cy="617" rx="38" ry="52" transform="rotate(20 -24 617)"/>
<ellipse class="m w" cx="2" cy="627" rx="35" ry="50" transform="rotate(20 2 627)"/>
<ellipse class="t w" cx="16" cy="633" rx="20" ry="32" transform="rotate(20 16 633)"/>
<path class="m w" d="M320,1038 L475,1102 C490,1108 510,1060 495,1054 L340,990 Z"/>
<path class="t" d="M475,1102 C462,1097 482,1049 495,1054"/>
<path class="m" d="M326,1040 C315,1036 335,988 346,992"/>
<path class="m" d="M345,1048 C334,1044 354,996 365,1000"/>
<path class="m" d="M365,1056 C354,1052 373,1004 384,1008"/>
<path class="m" d="M384,1064 C373,1060 393,1012 404,1016"/>
<path class="m" d="M403,1072 C392,1068 412,1020 423,1024"/>
<path class="m" d="M423,1080 C412,1076 432,1028 443,1032"/>
<path class="m" d="M442,1088 C431,1084 451,1036 462,1040"/>
<path class="m" d="M462,1096 C450,1092 470,1044 481,1048"/>
<ellipse class="m w" cx="276" cy="1005" rx="38" ry="52" transform="rotate(20 276 1005)"/>
<ellipse class="m w" cx="302" cy="1015" rx="35" ry="50" transform="rotate(20 302 1015)"/>
<ellipse class="t w" cx="316" cy="1021" rx="20" ry="32" transform="rotate(20 316 1021)"/>
<path class="t" d="M210,710 L575,855 M505,1090 L635,1135"/>
</g>
</g>
<!-- 41_handle_details.svg -->
<g id="h1c" transform="translate(470,1090) scale(0.21484)">
<path class="t" d="M190,372 L370,640"/>
<path class="t" d="M265,335 C250,380 290,480 390,605"/>
</g>
<g id="wp" transform="translate(655,1265) scale(0.05859)">
<path class="k w" d="M440,195 C400,170 340,165 290,185 C220,215 185,300 195,400 C200,460 220,505 250,520 L335,545 C345,600 400,650 470,670 L520,652 L620,682 C650,700 680,706 720,700 C820,680 875,580 870,490 C860,400 790,340 715,320 L700,290 C650,200 560,180 490,210 Z"/>
<path class="k" d="M470,215 C400,260 340,380 340,480 C340,540 350,580 370,612"/>
<path class="t" d="M520,225 C450,270 390,390 390,500 C390,560 405,610 432,642"/>
<path class="m" d="M560,250 C490,300 430,400 430,500 C430,570 460,630 512,652"/>
<path class="m" d="M640,282 L715,320"/>
<path class="t" d="M720,375 C650,390 600,480 600,570 C600,620 620,670 652,692"/>
</g>
<g id="h5" transform="translate(500,1490) scale(0.3125)">
<path class="k2" d="M755,480 L665,365 L250,75 L125,148 L125,200 L515,470"/>
<path class="t" d="M145,160 L520,415 L545,445 M565,465 L600,495"/>
<ellipse class="m" cx="230" cy="143" rx="20" ry="12"/>
<ellipse class="m" cx="410" cy="278" rx="20" ry="12"/>
<path class="l" d="M232,40 V143 M232,282 V385 M412,155 V278 M412,405 V490" style="stroke:#777"/>
</g>
<!-- 42_bottomscrews.svg -->
<g id="h5s" transform="translate(500,1490) scale(0.3125)">
<path class="m w" d="M217,482 L217,395 C217,384 247,384 247,395 L247,482 Z"/>
<path class="m" d="M217,400 C217,408 247,408 247,400"/>
<path class="m" d="M217,411 C217,419 247,419 247,411"/>
<path class="m" d="M217,422 C217,430 247,430 247,422"/>
<path class="m" d="M217,433 C217,441 247,441 247,433"/>
<path class="m" d="M217,444 C217,452 247,452 247,444"/>
<path class="m" d="M217,455 C217,463 247,463 247,455"/>
<path class="m" d="M217,466 C217,474 247,474 247,466"/>
<path class="m" d="M217,477 C217,485 247,485 247,477"/>
<path class="k w" d="M205,488 C205,470 259,470 259,488 L259,508 C259,530 205,530 205,508 Z"/>
<path class="m" d="M205,490 C205,510 259,510 259,490"/>
<ellipse class="m" cx="232" cy="510" rx="17" ry="9"/>
<path class="m w" d="M398,582 L398,497 C398,486 428,486 428,497 L428,582 Z"/>
<path class="m" d="M398,502 C398,510 428,510 428,502"/>
<path class="m" d="M398,513 C398,521 428,521 428,513"/>
<path class="m" d="M398,524 C398,532 428,532 428,524"/>
<path class="m" d="M398,535 C398,543 428,543 428,535"/>
<path class="m" d="M398,546 C398,554 428,554 428,546"/>
<path class="m" d="M398,557 C398,565 428,565 428,557"/>
<path class="m" d="M398,568 C398,576 428,576 428,568"/>
<path class="m" d="M398,579 C398,587 428,587 428,579"/>
<path class="k w" d="M386,586 C386,568 440,568 440,586 L440,606 C440,628 386,628 386,606 Z"/>
<path class="m" d="M386,588 C386,608 440,608 440,588"/>
<ellipse class="m" cx="413" cy="608" rx="17" ry="9"/>
</g>
</svg>
</body></html>
